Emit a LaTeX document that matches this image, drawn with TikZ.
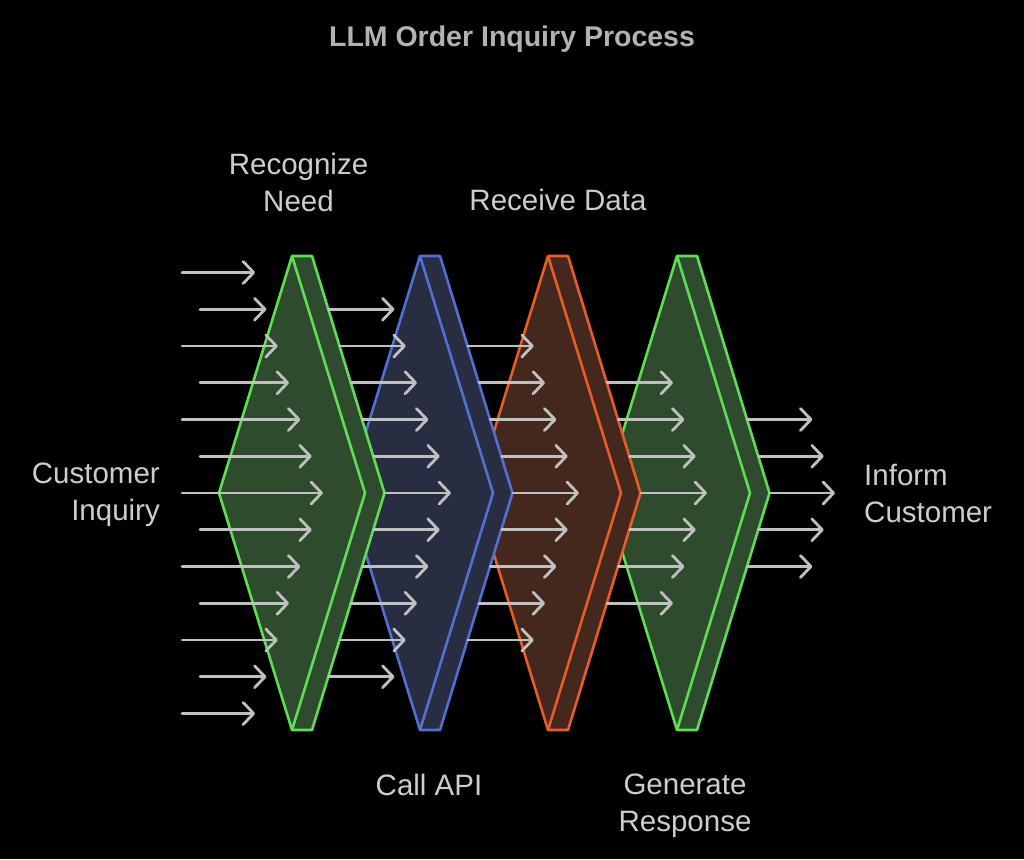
\documentclass[tikz,border=0pt]{standalone}
\usepackage{fontspec}
\setmainfont{Liberation Sans}
\usetikzlibrary{arrows.meta}
\definecolor{gstroke}{RGB}{95,222,85}
\definecolor{gfill}{RGB}{46,75,46}
\definecolor{bstroke}{RGB}{82,112,210}
\definecolor{bfill}{RGB}{40,45,66}
\definecolor{ostroke}{RGB}{232,92,40}
\definecolor{ofill}{RGB}{68,40,30}
\definecolor{arr}{RGB}{192,192,192}
\definecolor{txt}{RGB}{205,205,205}
\definecolor{ttl}{RGB}{178,178,178}
\newcommand\prismshape[4]{% #1 name, #2 x of top, #3 stroke, #4 fill
  \filldraw[draw=#3, fill=#4, line width=2.6pt, line join=round]
    (#2,256) coordinate (#1-top) -- ++(20,0) -- ++(72.5,237) -- ++(-72.5,237) -- ++(-20,0) -- ++(-73,-237) -- cycle;
  \draw[#3, line width=2.6pt, line join=round] (#2,256) -- ++(73,237) -- ++(-73,237);
}
\begin{document}
\begin{tikzpicture}[x=1pt,y=-1pt,
  flow/.style={draw=arr, line width=2.8pt, line cap=round, -{Straight Barb[length=10.5pt,width=22pt,line cap=round,line join=round]}},
  lbl/.style={text=txt, font=\fontsize{29.5}{37}\selectfont, inner sep=0pt},
  ttlstyle/.style={text=ttl, font=\fontsize{28.5}{34}\selectfont\bfseries, inner sep=0pt}]
\fill[black] (0,0) rectangle (1024,859);
\useasboundingbox (0,0) rectangle (1024,859);
% shapes, drawn right to left
\prismshape{s4}{677}{gstroke}{gfill}
\prismshape{s3}{548}{ostroke}{ofill}
\prismshape{s2}{420}{bstroke}{bfill}
\prismshape{s1}{292}{gstroke}{gfill}
% first arrow set
\foreach \i in {-6,...,6} {
  \pgfmathsetmacro\d{0.308*abs(36.75*\i)}
  \pgfmathsetmacro\sx{ifthenelse(mod(abs(\i),2)==1,200,182)}
  \pgfmathsetmacro\yy{493+36.75*\i}
  \draw[flow] (\sx,\yy) -- ({323-\d},\yy);
}
% following arrow sets
\foreach \sx/\tx/\n in {385/451/5, 513/579/4, 641/707/3, 770/835/2} {
  \foreach \i in {-\n,...,\n} {
    \pgfmathsetmacro\d{0.308*abs(36.75*\i)}
    \pgfmathsetmacro\yy{493+36.75*\i}
    \draw[flow] ({\sx-\d},\yy) -- ({\tx-\d},\yy);
  }
}
% labels
\node[ttlstyle, anchor=base] (title) at (512,46) {LLM Order Inquiry Process};
\node[lbl, align=center, anchor=north] (l1) at (298.5,153) {Recognize\\Need};
\node[lbl, anchor=base] (l3) at (558,210) {Receive Data};
\node[lbl, align=right, anchor=north east] (l0) at (160,463) {Customer\\Inquiry};
\node[lbl, align=left, anchor=north west] (l5) at (864,464) {Inform\\Customer};
\node[lbl, anchor=base] (l2) at (429,795) {Call API};
\node[lbl, align=center, anchor=north] (l4) at (685,774) {Generate\\Response};
\end{tikzpicture}
\end{document}
